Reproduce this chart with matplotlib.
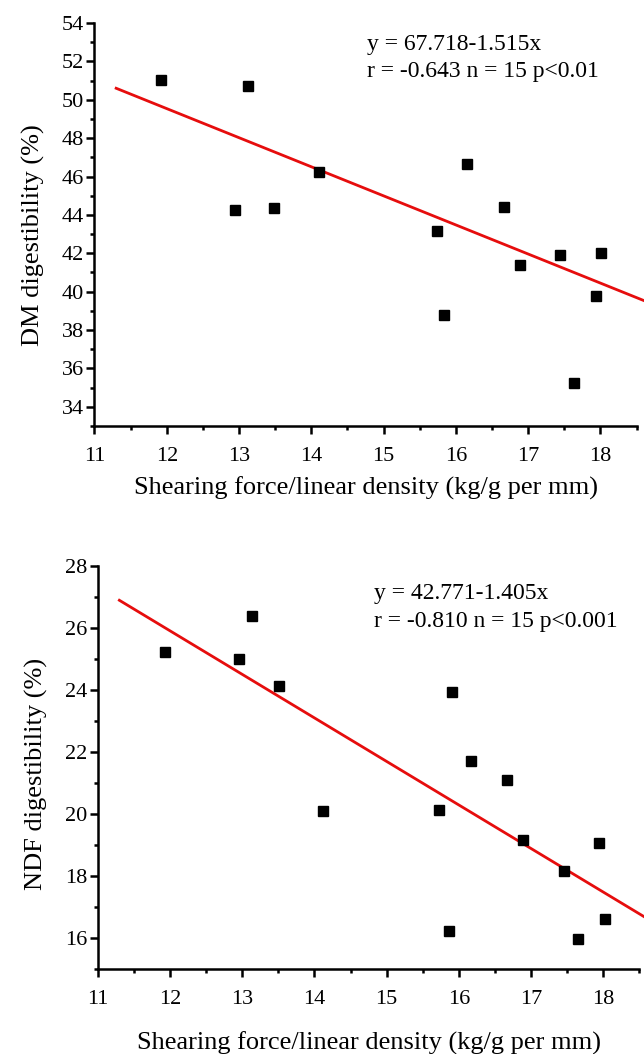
import matplotlib.pyplot as plt
import numpy as np
from matplotlib.ticker import MultipleLocator

plt.rcParams['font.family'] = ['Liberation Serif', 'DejaVu Serif']

# shearing force / linear density for each sample
dm_x = [11.92, 13.13, 12.95, 13.49, 14.11, 15.74, 15.84, 16.16, 16.66, 16.89, 17.44, 17.64, 17.94, 18.01]
dm_y = [51.05, 50.72, 44.25, 44.35, 46.22, 43.15, 38.8, 46.65, 44.42, 41.4, 41.9, 35.25, 39.8, 42.0]

ndf_x = [11.93, 12.95, 13.14, 13.51, 14.12, 15.73, 15.86, 15.91, 16.17, 16.67, 16.89, 17.45, 17.65, 17.94, 18.02]
ndf_y = [25.23, 24.99, 26.38, 24.12, 20.1, 20.12, 16.22, 23.94, 21.7, 21.09, 19.17, 18.17, 15.97, 19.08, 16.6]

# regression coefficients (intercept, slope)
dm_fit = (67.718, -1.515)
ndf_fit = (42.771, -1.405)
dm_stats = ["y = 67.718-1.515x", "r = -0.643 n = 15 p<0.01"]
ndf_stats = ["y = 42.771-1.405x", "r = -0.810 n = 15 p<0.001"]

fit_x = [11.3, 18.7]


def draw_panel(ax, x, y, fit, stats, ylabel, ylim, text_xy, xlabelpad, ylabel_y):
    ax.plot(x, y, 's', color='black', markersize=7.5, zorder=3)
    fx = np.array(fit_x)
    # the fitted line runs a little past the end of the x axis
    ax.plot(fx, fit[0] + fit[1] * fx, color='#e60d0d', lw=2, zorder=2, clip_on=False)

    ax.set_xlim(11, 18.5)
    ax.set_ylim(*ylim)
    ax.xaxis.set_major_locator(MultipleLocator(1))
    ax.xaxis.set_minor_locator(MultipleLocator(0.5))
    ax.yaxis.set_major_locator(MultipleLocator(2))
    ax.yaxis.set_minor_locator(MultipleLocator(1))

    for side in ('top', 'right'):
        ax.spines[side].set_visible(False)
    for side in ('left', 'bottom'):
        ax.spines[side].set_linewidth(1.8)
    ax.tick_params(which='major', direction='out', length=6, width=1.8, labelsize=16)
    ax.tick_params(axis='x', which='major', pad=9)
    ax.tick_params(axis='y', which='major', pad=1.5)
    ax.tick_params(which='minor', direction='out', length=3, width=1.8)

    ax.set_xlabel('Shearing force/linear density (kg/g per mm)', fontsize=19, labelpad=xlabelpad)
    ax.set_ylabel(ylabel, fontsize=19, labelpad=12)
    ax.yaxis.label.set_y(ylabel_y)

    tx, ty1, ty2 = text_xy
    ax.text(tx, ty1, stats[0], fontsize=17, va='center', ha='left')
    ax.text(tx, ty2, stats[1], fontsize=17, va='center', ha='left')


fig = plt.figure(figsize=(6.44, 10.54), dpi=100)
ax1 = fig.add_axes([0.1467, 0.5958, 0.8417, 0.3824])
ax2 = fig.add_axes([0.1517, 0.0806, 0.8413, 0.3824])

draw_panel(ax1, dm_x, dm_y, dm_fit, dm_stats, 'DM digestibility (%)', (33, 54),
           (14.77, 52.9, 51.45), 8, 0.4725)
draw_panel(ax2, ndf_x, ndf_y, ndf_fit, ndf_stats, 'NDF digestibility (%)', (15, 28),
           (14.83, 27.12, 26.2), 16, 0.485)

plt.savefig('out.png', dpi=100)
